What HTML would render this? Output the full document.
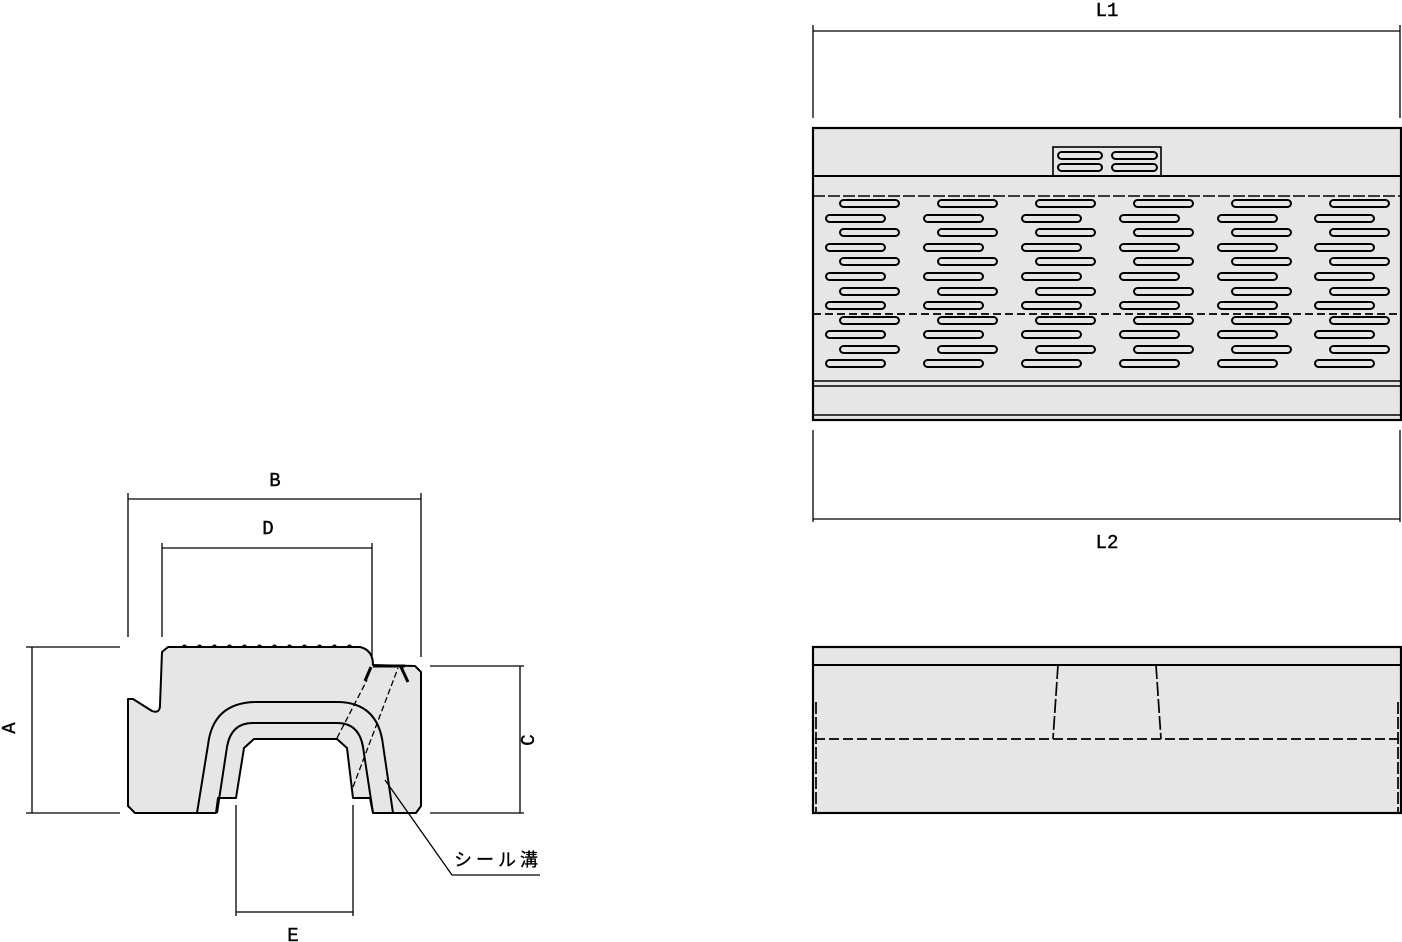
<!DOCTYPE html>
<html><head><meta charset="utf-8"><style>
html,body{margin:0;padding:0;background:#fff;}
svg{display:block;}
text{font-family:"Liberation Mono","Noto Sans CJK JP",monospace;font-size:19px;fill:#000;stroke:#000;stroke-width:0.4;}
</style></head><body>
<svg width="1402" height="942" viewBox="0 0 1402 942" xmlns="http://www.w3.org/2000/svg">
<defs>
<rect id="s" width="59" height="7" rx="3.5" fill="#e6e6e6" stroke="#000" stroke-width="2"/>
<g id="colR">
<use href="#s" y="200"/><use href="#s" y="229"/><use href="#s" y="258"/><use href="#s" y="288"/><use href="#s" y="317"/><use href="#s" y="346"/>
</g>
<g id="colL">
<use href="#s" y="215"/><use href="#s" y="244"/><use href="#s" y="273"/><use href="#s" y="302"/><use href="#s" y="331"/><use href="#s" y="360"/>
</g>
</defs>

<g stroke="#000" fill="none" stroke-width="1.3">
<line x1="813" y1="31" x2="1400" y2="31"/>
<line x1="813" y1="25" x2="813" y2="118"/>
<line x1="1400" y1="25" x2="1400" y2="118"/>
<line x1="813" y1="519" x2="1400" y2="519"/>
<line x1="813" y1="430" x2="813" y2="522"/>
<line x1="1400" y1="430" x2="1400" y2="522"/>
</g>
<text x="1107" y="16" text-anchor="middle">L1</text>
<text x="1107" y="548" text-anchor="middle">L2</text>

<rect x="813" y="128" width="588" height="292" fill="#e6e6e6" stroke="#000" stroke-width="2.2"/>
<rect x="1053" y="147" width="108" height="29" fill="#e6e6e6" stroke="#000" stroke-width="1.6"/>
<rect x="1058" y="152" width="44" height="7" rx="3.5" fill="#e6e6e6" stroke="#000" stroke-width="2"/>
<rect x="1058" y="164" width="44" height="7" rx="3.5" fill="#e6e6e6" stroke="#000" stroke-width="2"/>
<rect x="1112" y="152" width="45" height="7" rx="3.5" fill="#e6e6e6" stroke="#000" stroke-width="2"/>
<rect x="1112" y="164" width="45" height="7" rx="3.5" fill="#e6e6e6" stroke="#000" stroke-width="2"/>
<g stroke="#000" stroke-width="1.8">
<line x1="813" y1="176" x2="1401" y2="176" stroke-width="2"/>
<line x1="813" y1="196" x2="1401" y2="196" stroke-dasharray="12,3" stroke-width="1.4"/>
<line x1="813" y1="314" x2="1401" y2="314" stroke-dasharray="8,4" stroke-width="1.8"/>
<line x1="813" y1="381" x2="1401" y2="381" stroke-width="1.5"/>
<line x1="813" y1="386" x2="1401" y2="386" stroke-width="1.5"/>
<line x1="813" y1="415" x2="1401" y2="415" stroke-width="1.5"/>
</g>
<use href="#colR" x="840"/><use href="#colR" x="938"/><use href="#colR" x="1036"/><use href="#colR" x="1134"/><use href="#colR" x="1232"/><use href="#colR" x="1330"/>
<use href="#colL" x="826"/><use href="#colL" x="924"/><use href="#colL" x="1022"/><use href="#colL" x="1120"/><use href="#colL" x="1218"/><use href="#colL" x="1315"/>

<rect x="813" y="647" width="588" height="166" fill="#e6e6e6" stroke="#000" stroke-width="2.2"/>
<g stroke="#000" fill="none">
<line x1="813" y1="665" x2="1401" y2="665" stroke-width="2"/>
<line x1="815" y1="739" x2="1399" y2="739" stroke-width="1.7" stroke-dasharray="10,4"/>
<line x1="1058" y1="665" x2="1053" y2="739" stroke-width="1.7" stroke-dasharray="14,3"/>
<line x1="1156" y1="665" x2="1161" y2="739" stroke-width="1.7" stroke-dasharray="14,3"/>
<line x1="816" y1="702" x2="816" y2="813" stroke-width="1.7" stroke-dasharray="12,3"/>
<line x1="1398" y1="702" x2="1398" y2="813" stroke-width="1.7" stroke-dasharray="12,3"/>
</g>

<g stroke="#000" fill="none" stroke-width="1.3">
<line x1="128" y1="499" x2="421" y2="499"/>
<line x1="128" y1="493" x2="128" y2="637"/>
<line x1="421" y1="493" x2="421" y2="657"/>
<line x1="162" y1="548" x2="372" y2="548"/>
<line x1="162" y1="543" x2="162" y2="637"/>
<line x1="372" y1="543" x2="372" y2="657"/>
<line x1="32" y1="647" x2="32" y2="813"/>
<line x1="26" y1="647" x2="120" y2="647"/>
<line x1="26" y1="813" x2="120" y2="813"/>
<line x1="520" y1="666" x2="520" y2="813"/>
<line x1="430" y1="666" x2="524" y2="666"/>
<line x1="430" y1="813" x2="524" y2="813"/>
<line x1="236" y1="912" x2="353" y2="912"/>
<line x1="236" y1="805" x2="236" y2="916"/>
<line x1="353" y1="805" x2="353" y2="916"/>
</g>
<text x="275" y="486" text-anchor="middle">B</text>
<text x="268" y="534" text-anchor="middle">D</text>
<text x="293" y="941" text-anchor="middle">E</text>
<text transform="translate(15,728) rotate(-90)" text-anchor="middle">A</text>
<text transform="translate(534,740) rotate(-90)" text-anchor="middle">C</text>

<path d="M128,699 L133,699 L152,711 Q160,714 160,705 L162,652 L168,647 L360,647 Q373,650 373,665 L415,666 L421,672 L421,806 L416,813 L373,813 L370,798 L353,798 L347,748 L337,739 L254,739 L244,748 L236,798 L218,798 L216,813 L135,813 L128,806 Z" fill="#e6e6e6" stroke="#000" stroke-width="2" stroke-linejoin="round"/>
<g fill="#000">
<path d="M182,647 a2.5,2.5 0 0 1 5,0Z M197,647 a2.5,2.5 0 0 1 5,0Z M212,647 a2.5,2.5 0 0 1 5,0Z M227,647 a2.5,2.5 0 0 1 5,0Z M242,647 a2.5,2.5 0 0 1 5,0Z M257,647 a2.5,2.5 0 0 1 5,0Z M272,647 a2.5,2.5 0 0 1 5,0Z M287,647 a2.5,2.5 0 0 1 5,0Z M302,647 a2.5,2.5 0 0 1 5,0Z M317,647 a2.5,2.5 0 0 1 5,0Z M332,647 a2.5,2.5 0 0 1 5,0Z M347,647 a2.5,2.5 0 0 1 5,0Z"/>
</g>
<g stroke="#000" fill="none" stroke-width="2">
<path d="M197,813 L208,745 Q213,702 257,702 L337,702 Q378,702 383,745 L393,813"/>
<path d="M217,813 L227,747 Q231,723 253,723 L337,723 Q359,723 363,747 L373,813"/>
</g>
<g stroke="#000" fill="none" stroke-width="1.3" stroke-dasharray="6,3">
<line x1="337" y1="738" x2="367" y2="680"/>
<line x1="353" y1="787" x2="398" y2="668"/>
</g>
<g stroke="#000" fill="none" stroke-width="3">
<line x1="373" y1="666" x2="405" y2="666"/>
<line x1="365" y1="681" x2="371" y2="667"/>
<line x1="401" y1="667" x2="408" y2="682"/>
</g>
<polyline points="385,780 452,875 540,875" stroke="#000" fill="none" stroke-width="1.3"/>
<text x="454" y="866" style="font-family:'Noto Sans CJK JP',sans-serif;font-size:18px;letter-spacing:4px;stroke-width:0.3">シール溝</text>
</svg>
</body></html>
